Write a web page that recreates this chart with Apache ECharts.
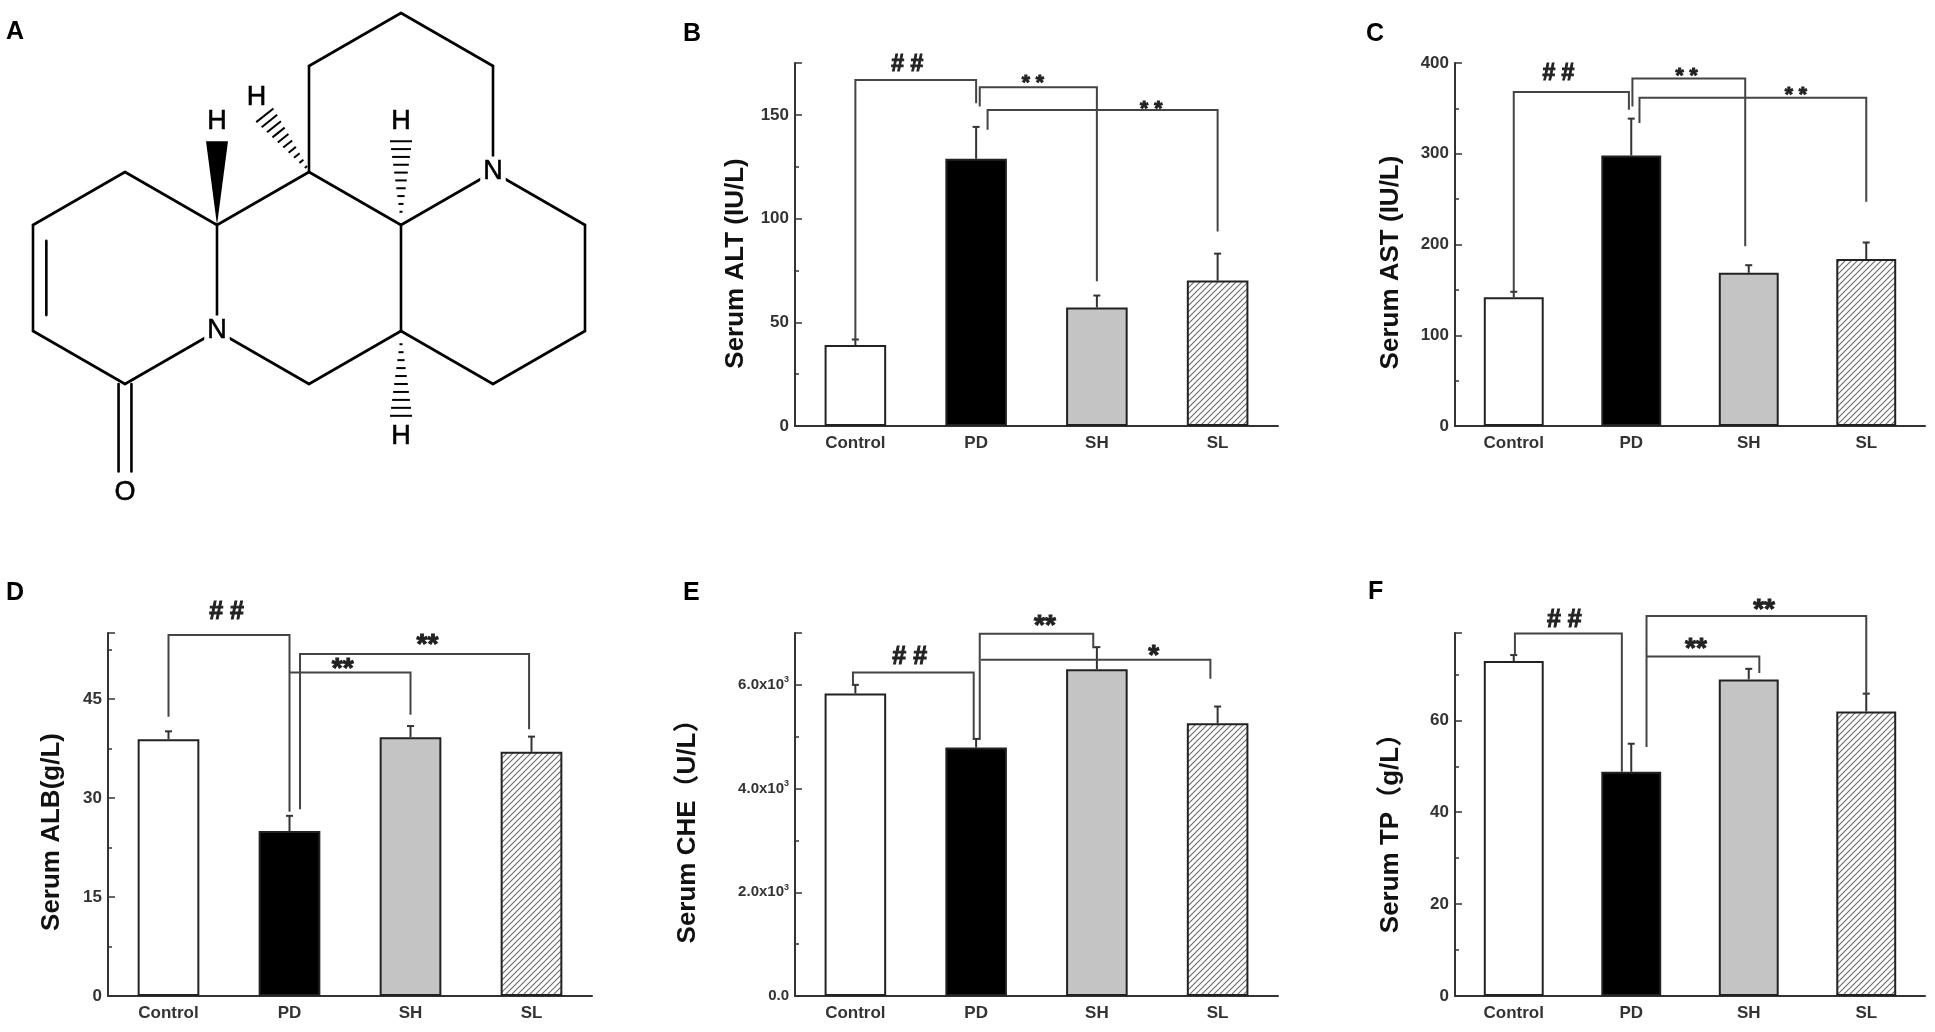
<!DOCTYPE html>
<html>
<head>
    <meta charset="UTF-8">
    <title>Serum liver indices</title>
    <script src="https://cdn.jsdelivr.net/npm/echarts@6.0.0/dist/echarts.min.js"></script>
    <style>
        *{margin:0;padding:0;}
        body,html{width:100%;height:100%;background:#fff;}
        #main{width:1935px;height:1032px;}
    </style>
</head>
<body>
<div id="main"></div>
<script>
    // groups on every x axis
    var groups = ['Control', 'PD', 'SH', 'SL'];

    // B - ALT (IU/L), mean and upper SD
    var altMean = [39.0, 128.8, 57.1, 70.1];
    var altSd = [2.7, 15.4, 5.8, 13.0];
    // C - AST (IU/L)
    var astMean = [142, 298, 168.8, 183.9];
    var astSd = [5.9, 40.7, 8.4, 18.3];
    // D - ALB (g/L)
    var albMean = [38.9, 25.0, 39.2, 37.0];
    var albSd = [1.2, 2.3, 1.7, 2.3];
    // E - CHE (U/L)
    var cheMean = [5833, 4791, 6302, 5260];
    var cheSd = [167, 167, 425, 322];
    // F - TP (g/L)
    var tpMean = [72.9, 48.8, 68.9, 61.9];
    var tpSd = [1.3, 6.1, 2.3, 3.9];

    // significance brackets: [x left, left leg end, top, x right, right leg end] (x in group index)
    var altBrackets = [[0, 41.7, 166.8, 1.0, 155.6], [1.03, 154.0, 163.3, 2.0, 69.8], [1.095, 142.8, 152.4, 3.0, 93.8]];
    var altMarks = [['# #', 0.43, 174], ['* *', 1.47, 167.6], ['* *', 2.45, 155.1]];
    var astBrackets = [[0, 147.9, 368, 0.98, 348.6], [1.01, 352, 382.8, 1.97, 198.2], [1.07, 334, 361.8, 3.0, 247]];
    var astMarks = [['# #', 0.38, 388], ['* *', 1.47, 390], ['* *', 2.40, 370]];
    var albBrackets = [[0, 42.3, 54.7, 1.0, 27.9], [1.0, 49.0, 49.0, 2.0, 42.6], [1.087, 28.3, 51.8, 2.98, 40.4]];
    var albMarks = [['# #', 0.48, 58.2], ['**', 1.44, 50.4], ['**', 2.14, 54.0]];
    var cheBrackets = [[-0.02, 6000, 6238, 0.98, 4971], [1.03, 4939, 6984, 1.97, 6707], [1.04, 6482, 6482, 2.94, 6116]];
    var cheMarks = [['# #', 0.45, 6534], ['**', 1.57, 7241], ['*', 2.47, 6662]];
    var tpBrackets = [[0.01, 74.1, 78.9, 0.92, 48.8], [1.13, 54.2, 82.7, 3.0, 65.7], [1.13, 73.9, 73.9, 2.09, 70.3]];
    var tpMarks = [['# #', 0.43, 81.8], ['**', 2.13, 85.2], ['**', 1.55, 76.7]];

    var FONT = "'Liberation Sans', Arial, 'Noto Sans CJK SC', sans-serif";

    // diagonal hatch for the SL bars
    function hatch() {
        var c = document.createElement('canvas');
        c.width = 6; c.height = 6;
        var g = c.getContext('2d');
        g.fillStyle = '#fff';
        g.fillRect(0, 0, 6, 6);
        g.strokeStyle = '#6a6a6a';
        g.lineWidth = 1.1;
        g.beginPath();
        g.moveTo(0, 6); g.lineTo(6, 0);
        g.moveTo(-3, 3); g.lineTo(3, -3);
        g.moveTo(3, 9); g.lineTo(9, 3);
        g.stroke();
        return c;
    }
    var groupFill = ['#ffffff', '#000000', '#c4c4c4', {image: hatch(), repeat: 'repeat'}];

    function plainLabel(step) {
        return function (v) { return v % step ? '' : String(v); };
    }
    function sciLabel(v) {
        if (v === 0) return '0.0';
        if (v % 2000) return '';
        return '{a|' + (v / 1000).toFixed(1) + 'x10}{s|3}';
    }

    var panels = [
        {grid: {left: 795, right: 657, top: 63, height: 363}, name: 'Serum ALT (IU/L)', gap: 46, shift: 38,
            max: 175, step: 50, minor: 25, mean: altMean, sd: altSd, brackets: altBrackets, marks: altMarks,
            hashSize: 23, starSize: 21, label: plainLabel(50)},
        {grid: {left: 1455, right: 10, top: 63, height: 363}, name: 'Serum AST (IU/L)', gap: 51, shift: 36,
            max: 400, step: 100, minor: 50, mean: astMean, sd: astSd, brackets: astBrackets, marks: astMarks,
            hashSize: 23, starSize: 21, label: plainLabel(100)},
        {grid: {left: 108, right: 1343, top: 633, height: 363}, name: 'Serum ALB(g/L)', gap: 43, shift: 35,
            max: 55, step: 15, minor: 7.5, mean: albMean, sd: albSd, brackets: albBrackets, marks: albMarks,
            hashSize: 25, starSize: 28, label: plainLabel(15)},
        {grid: {left: 795, right: 657, top: 633, height: 363}, name: 'Serum CHE\uff08U/L\uff09', gap: 94, shift: 21,
            max: 7000, step: 2000, minor: 1000, mean: cheMean, sd: cheSd, brackets: cheBrackets, marks: cheMarks,
            hashSize: 25, starSize: 28, label: sciLabel, labelSize: 15},
        {grid: {left: 1455, right: 10, top: 633, height: 363}, name: 'Serum TP\uff08g/L\uff09', gap: 51, shift: 25,
            max: 79, step: 20, minor: 10, mean: tpMean, sd: tpSd, brackets: tpBrackets, marks: tpMarks,
            hashSize: 25, starSize: 28, label: plainLabel(20)}
    ];

    function groupX(api, idx) {
        var x0 = api.coord([0, 0])[0];
        var bw = api.size([1, 0])[0];
        return x0 + idx * bw;
    }

    function errorItem(params, api) {
        var base = api.coord([api.value(0), api.value(1)]);
        var top = api.coord([api.value(0), api.value(2)]);
        var st = {stroke: '#333', lineWidth: 2};
        return {type: 'group', children: [
            {type: 'line', shape: {x1: base[0], y1: base[1], x2: top[0], y2: top[1]}, style: st},
            {type: 'line', shape: {x1: top[0] - 3.5, y1: top[1], x2: top[0] + 3.5, y2: top[1]}, style: st}
        ]};
    }

    function bracketRenderer(list) {
        return function (params, api) {
            var b = list[params.dataIndex];
            var xa = groupX(api, b[0]), xb = groupX(api, b[3]);
            var ya = api.coord([0, b[1]])[1], yt = api.coord([0, b[2]])[1], yb = api.coord([0, b[4]])[1];
            return {type: 'polyline', shape: {points: [[xa, ya], [xa, yt], [xb, yt], [xb, yb]]},
                style: {stroke: '#444', lineWidth: 2, fill: null}};
        };
    }

    function markRenderer(list, hashSize, starSize) {
        return function (params, api) {
            var m = list[params.dataIndex];
            var star = m[0].indexOf('*') >= 0;
            var fs = star ? starSize : hashSize;
            var y = api.coord([0, m[2]])[1] + (star ? fs * 0.22 : 0);
            return {type: 'text', x: groupX(api, m[1]), y: y,
                style: {text: m[0], fill: '#222', stroke: '#222', lineWidth: 1, fontSize: fs, fontWeight: 'bold',
                    fontFamily: FONT, align: 'center', verticalAlign: 'middle'}};
        };
    }

    var option = {
        animation: false,
        backgroundColor: '#fff',
        grid: [], xAxis: [], yAxis: [], series: [], graphic: []
    };

    panels.forEach(function (p, k) {
        var g = p.grid;
        g.outerBoundsMode = 'none';
        option.grid.push(g);
        option.xAxis.push({
            type: 'category', gridIndex: k, data: groups, boundaryGap: true,
            axisLine: {lineStyle: {color: '#333', width: 2}},
            axisTick: {inside: true, alignWithLabel: true, length: 6, lineStyle: {color: '#333', width: 1.5}},
            axisLabel: {color: '#333', fontSize: 17, fontWeight: 'bold', fontFamily: FONT, margin: 9},
            splitLine: {show: false}
        });
        option.yAxis.push({
            type: 'value', gridIndex: k, position: 'left', min: 0, max: p.max, interval: p.step,
            name: p.name, nameLocation: 'middle', nameGap: p.gap, nameRotate: 90, nameMoveOverlap: false,
            nameTextStyle: {color: '#111', fontSize: 26, fontWeight: 'bold', fontFamily: FONT, padding: [0, p.shift, 0, 0]},
            axisLine: {show: true, lineStyle: {color: '#333', width: 2}},
            axisTick: {show: true, inside: true, length: 7, lineStyle: {color: '#333', width: 1.5}},
            axisLabel: {color: '#333', fontSize: p.labelSize || 17, fontWeight: 'bold', fontFamily: FONT, margin: 6,
                formatter: p.label,
                rich: {a: {fontSize: 15, fontWeight: 'bold', fontFamily: FONT, color: '#333'},
                    s: {fontSize: 9, fontWeight: 'bold', fontFamily: FONT, color: '#333', padding: [0, 0, 10, 0]}}},
            splitLine: {show: false}
        });
        // second axis only for the short minor ticks
        option.yAxis.push({
            type: 'value', gridIndex: k, position: 'left', min: 0, max: p.max, interval: p.minor,
            axisLine: {show: false}, axisLabel: {show: false}, splitLine: {show: false},
            axisTick: {show: true, inside: true, length: 4, lineStyle: {color: '#333', width: 1.5}}
        });

        option.series.push({
            type: 'bar', xAxisIndex: k, yAxisIndex: 2 * k, barWidth: '51%', silent: true,
            itemStyle: {borderColor: '#222', borderWidth: 2},
            data: p.mean.map(function (v, i) { return {value: v, itemStyle: {color: groupFill[i]}}; })
        });
        option.series.push({
            type: 'custom', xAxisIndex: k, yAxisIndex: 2 * k, silent: true, z: 5,
            renderItem: errorItem, encode: {x: 0, y: [1, 2]},
            data: p.mean.map(function (v, i) { return [i, v, v + p.sd[i]]; })
        });
        option.series.push({
            type: 'custom', xAxisIndex: k, yAxisIndex: 2 * k, silent: true, z: 6, clip: false,
            renderItem: bracketRenderer(p.brackets), encode: {x: 0, y: 1},
            data: p.brackets.map(function () { return [0, 0]; })
        });
        option.series.push({
            type: 'custom', xAxisIndex: k, yAxisIndex: 2 * k, silent: true, z: 7, clip: false,
            renderItem: markRenderer(p.marks, p.hashSize, p.starSize), encode: {x: 0, y: 1},
            data: p.marks.map(function () { return [0, 0]; })
        });
    });

    // panel letters
    var letters = [['A', 6, 32], ['B', 683, 34], ['C', 1366, 34], ['D', 6, 593], ['E', 683, 593], ['F', 1368, 592]];
    letters.forEach(function (l) {
        option.graphic.push({type: 'text', x: l[1], y: l[2], z: 10,
            style: {text: l[0], fontSize: 25, fontWeight: 'bold', fontFamily: FONT, fill: '#000',
                align: 'left', verticalAlign: 'middle'}});
    });

    // panel A: matrine skeleton drawn on a hexagon lattice (col, row)
    var ox = 33, oy = 13, ux = 92, vy = 53;
    function P(c, r) { return [ox + c * ux, oy + r * vy]; }
    var bonds = [
        [[1, 3], [0, 4]], [[0, 4], [0, 6]], [[0, 6], [1, 7]], [[1, 7], [2, 6]], [[2, 6], [2, 4]], [[2, 4], [1, 3]],
        [[2, 4], [3, 3]], [[3, 3], [4, 4]], [[4, 4], [4, 6]], [[4, 6], [3, 7]], [[3, 7], [2, 6]],
        [[3, 3], [3, 1]], [[3, 1], [4, 0]], [[4, 0], [5, 1]], [[5, 1], [5, 3]], [[5, 3], [4, 4]],
        [[5, 3], [6, 4]], [[6, 4], [6, 6]], [[6, 6], [5, 7]], [[5, 7], [4, 6]],
        [[0.145, 4.3], [0.145, 5.7]],
        [[0.93, 7], [0.93, 8.65]], [[1.07, 7], [1.07, 8.65]]
    ];
    var bondStyle = {stroke: '#000', lineWidth: 2.6, lineCap: 'round'};
    bonds.forEach(function (b) {
        var a = P(b[0][0], b[0][1]), e = P(b[1][0], b[1][1]);
        option.graphic.push({type: 'line', z: 1, shape: {x1: a[0], y1: a[1], x2: e[0], y2: e[1]}, style: bondStyle});
    });
    // solid wedge up to H
    var w0 = P(2, 4), w1 = P(2, 2.42);
    option.graphic.push({type: 'polygon', z: 1,
        shape: {points: [w0, [w1[0] - 11, w1[1]], [w1[0] + 11, w1[1]]]}, style: {fill: '#000'}});
    // hashed wedges: [from, to]
    var hashes = [[[3, 3], [2.52, 1.93]], [[4, 3.75], [4, 2.42]], [[4, 6.25], [4, 7.6]]];
    hashes.forEach(function (h) {
        var a = P(h[0][0], h[0][1]), e = P(h[1][0], h[1][1]);
        if (h === hashes[0]) { a = [a[0] - 3, a[1] - 5]; }
        var dx = e[0] - a[0], dy = e[1] - a[1], len = Math.sqrt(dx * dx + dy * dy);
        var nx = -dy / len, ny = dx / len, n = 10;
        for (var i = 0; i < n; i++) {
            var t = i / (n - 1);
            var cx = a[0] + dx * t, cy = a[1] + dy * t, hw = 1.5 + 9.5 * t;
            option.graphic.push({type: 'line', z: 1,
                shape: {x1: cx - nx * hw, y1: cy - ny * hw, x2: cx + nx * hw, y2: cy + ny * hw},
                style: {stroke: '#000', lineWidth: 2}});
        }
    });
    var atoms = [['N', 2, 6], ['N', 5, 3], ['O', 1, 9.05], ['H', 2, 2.05], ['H', 2.43, 1.6], ['H', 4, 2.05], ['H', 4, 8.0]];
    atoms.forEach(function (t) {
        var q = P(t[1], t[2]);
        option.graphic.push({type: 'text', x: q[0], y: q[1], z: 3,
            style: {text: t[0], fontSize: 27, fontFamily: FONT, fill: '#000', stroke: '#000', lineWidth: 0.6,
                align: 'center', verticalAlign: 'middle',
                backgroundColor: t[0] === 'N' ? '#fff' : null, padding: [2, 3, 2, 3]}});
    });

    var myChart = echarts.init(document.getElementById('main'));
    myChart.setOption(option);
</script>
</body>
</html>
